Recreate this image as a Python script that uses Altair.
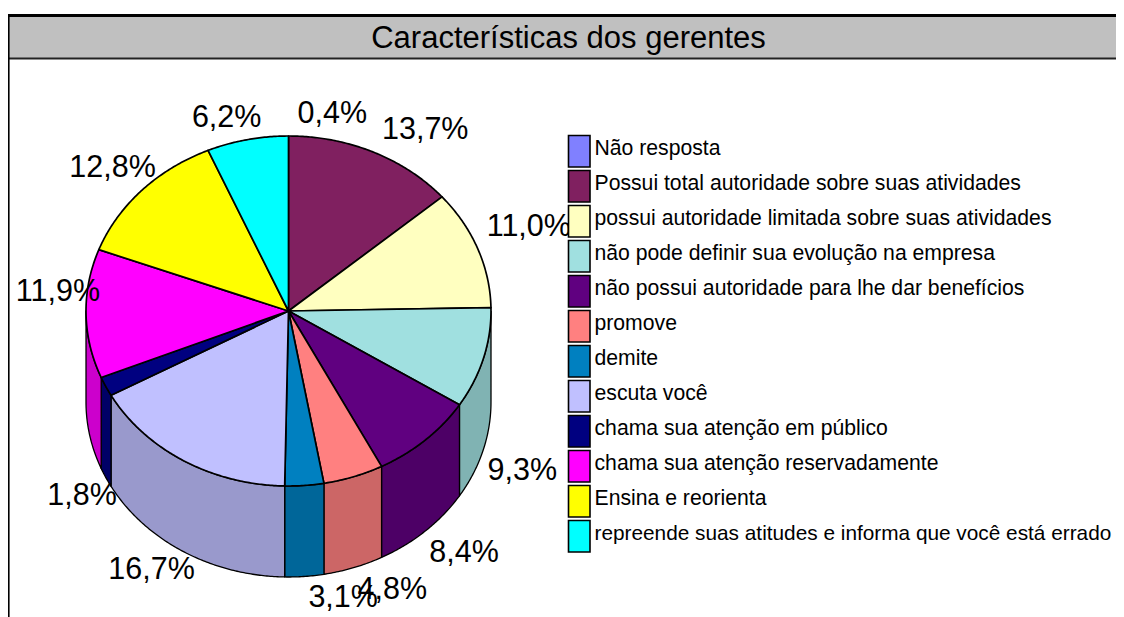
import numpy as np
import pandas as pd
import altair as alt

TITLE = "Características dos gerentes"
categories = [
    "Não resposta",
    "Possui total autoridade  sobre suas atividades",
    "possui autoridade limitada sobre suas atividades",
    "não pode definir sua evolução na empresa",
    "não possui autoridade para lhe dar benefícios",
    "promove",
    "demite",
    "escuta você",
    "chama sua atenção em público",
    "chama sua atenção reservadamente",
    "Ensina e reorienta",
    "repreende suas atitudes e informa que você está errado",
]
values = [0.4, 13.7, 11.0, 9.3, 8.4, 4.8, 3.1, 16.7, 1.8, 11.9, 12.8, 6.2]
top_colors = ["#8080FF", "#802060", "#FFFFC0", "#A0E0E0", "#600080", "#FF8080",
              "#0080C0", "#C0C0FF", "#000080", "#FF00FF", "#FFFF00", "#00FFFF"]
side_colors = ["#6666CC", "#661A4D", "#CCCC99", "#80B3B3", "#4D0066", "#CC6666",
               "#006699", "#9999CC", "#000066", "#CC00CC", "#CCCC00", "#00CCCC"]

W, H = 1116, 617
CX, CY, RX, RY, DEPTH = 288.5, 311.0, 202.5, 175.0, 91.0


def ell(deg, drop=0.0):
    t = np.radians(deg)
    return CX + RX * np.sin(t), CY - RY * np.cos(t) + drop


# The 0,4% slice has no visible sweep in the picture; the last slice closes the wheel.
edges = np.concatenate([[0.0, 0.0], np.cumsum(values[1:]) * 3.6])
edges[-1] = 360.0

top_rows, wall_rows = [], []
for i, (a, b) in enumerate(zip(edges[:-1], edges[1:])):
    if b <= a:
        continue
    arc = np.linspace(a, b, max(int(b - a) * 2, 3))
    xs, ys = ell(arc)
    px = [CX, *xs, CX]
    py = [CY, *ys, CY]
    for s, (x, y) in enumerate(zip(px, py)):
        top_rows.append(dict(slice=i, seq=s, x=x, y=y, col=top_colors[i]))
    lo, hi = max(a, 90.0), min(b, 270.0)
    if hi > lo:
        arc = np.linspace(lo, hi, max(int(hi - lo) * 2, 3))
        x1, y1 = ell(arc)
        x2, y2 = ell(arc[::-1], DEPTH)
        px = [*x1, *x2, x1[0]]
        py = [*y1, *y2, y1[0]]
        for s, (x, y) in enumerate(zip(px, py)):
            wall_rows.append(dict(slice=i, seq=s, x=x, y=y, col=side_colors[i]))

mids = (edges[:-1] + edges[1:]) / 2
left_rows, right_rows = [], []
for i, (v, m) in enumerate(zip(values, mids)):
    up = np.cos(np.radians(m)) >= -0.05
    x, y = ell(m, 0.0 if up else DEPTH)
    text = f"{v:.1f}%".replace(".", ",")
    if np.sin(np.radians(m)) >= 0:
        left_rows.append(dict(x=x + (9 if up else 4), y=y + (-13 if up else 31), t=text))
    else:
        right_rows.append(dict(x=x + (14 if up else 11), y=y + (-13 if up else 27), t=text))

n = len(categories)
legend = pd.DataFrame({
    "cat": categories,
    "col": top_colors,
    "y1": [135.5 + 35 * i for i in range(n)],
    "y2": [167.0 + 35 * i for i in range(n)],
    "ym": [149.0 + 35 * i for i in range(n)],
    "x1": 568.5,
    "x2": 590.0,
    "xt": 594.5,
    "fs": [21.2] * (n - 1) + [20.8],
})

X = alt.X("x:Q", scale=alt.Scale(domain=[8, W]), axis=None)
Y = alt.Y("y:Q", scale=alt.Scale(domain=[H, 8]), axis=None)
FONT = "Liberation Sans"


def poly(rows, width):
    return alt.Chart(pd.DataFrame(rows)).mark_line(
        stroke="black", strokeWidth=width, strokeJoin="round", clip=False, fill="white"
    ).encode(x=X, y=Y, order=alt.Order("seq:Q"), detail="slice:N",
             fill=alt.Fill("col:N", scale=None))


frame = pd.DataFrame({"x": [8.0], "x2": [W], "y": [15.0], "y2": [58.0]})
band = alt.Chart(frame).mark_rect(fill="#C0C0C0", stroke=None).encode(
    x=X, x2="x2:Q", y=Y, y2="y2:Q")
top_line = alt.Chart(pd.DataFrame({"x": [8.0], "x2": [W], "y": [15.5]})).mark_rule(
    color="black", strokeWidth=3).encode(x=X, x2="x2:Q", y=Y)
under_line = alt.Chart(pd.DataFrame({"x": [8.0], "x2": [W], "y": [58.5]})).mark_rule(
    color="#222222", strokeWidth=2).encode(x=X, x2="x2:Q", y=Y)
left_line = alt.Chart(pd.DataFrame({"x": [8.7], "y": [14.0], "y2": [H]})).mark_rule(
    color="black", strokeWidth=1.8).encode(x=X, y=Y, y2="y2:Q")
title = alt.Chart(pd.DataFrame({"x": [568.5], "y": [39.0], "t": [TITLE]})).mark_text(
    font=FONT, fontSize=31, color="black", baseline="middle", align="center"
).encode(x=X, y=Y, text="t:N")

lab_l = alt.Chart(pd.DataFrame(left_rows)).mark_text(
    font=FONT, fontSize=30.5, color="black", align="left", baseline="alphabetic"
).encode(x=X, y=Y, text="t:N")
lab_r = alt.Chart(pd.DataFrame(right_rows)).mark_text(
    font=FONT, fontSize=30.5, color="black", align="right", baseline="alphabetic"
).encode(x=X, y=Y, text="t:N")

swatch = alt.Chart(legend).mark_rect(stroke="black", strokeWidth=1.6).encode(
    x=alt.X("x1:Q", scale=alt.Scale(domain=[8, W]), axis=None), x2="x2:Q",
    y=alt.Y("y1:Q", scale=alt.Scale(domain=[H, 8]), axis=None), y2="y2:Q",
    fill=alt.Fill("col:N", scale=None))
leg_text = alt.Chart(legend).mark_text(
    font=FONT, color="black", align="left", baseline="middle"
).encode(
    x=alt.X("xt:Q", scale=alt.Scale(domain=[8, W]), axis=None),
    y=alt.Y("ym:Q", scale=alt.Scale(domain=[H, 8]), axis=None),
    size=alt.Size("fs:Q", scale=None),
    text="cat:N")

chart = alt.layer(
    band, top_line, under_line, left_line, title,
    poly(wall_rows, 1.3), poly(top_rows, 1.7),
    lab_l, lab_r, swatch, leg_text,
).properties(
    width=W - 8, height=H - 8, padding=0,
    autosize=alt.AutoSizeParams(type="none"),
    background="white",
).configure_view(stroke=None)

chart.save("out.html", embed_options={"renderer": "svg", "actions": False})
